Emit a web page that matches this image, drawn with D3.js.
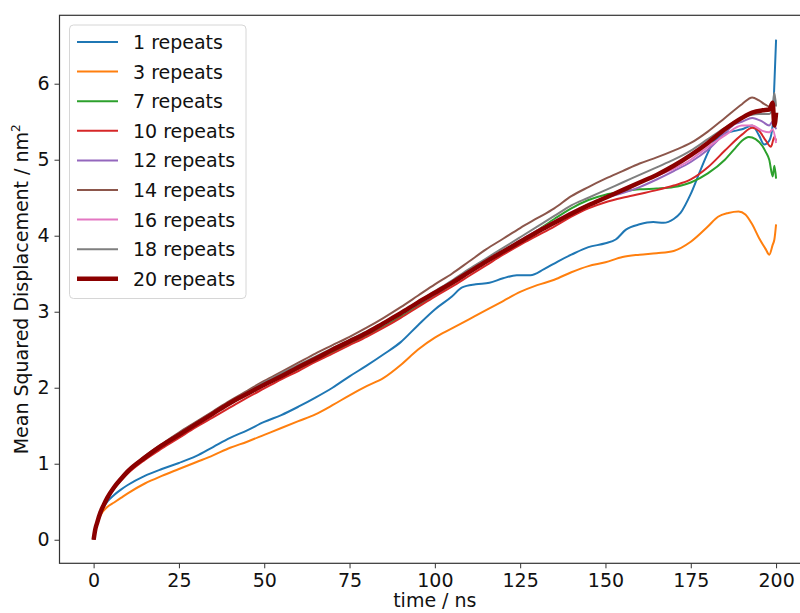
<!DOCTYPE html>
<html><head><meta charset="utf-8">
<script src="https://cdn.jsdelivr.net/npm/d3@7"></script>
<style>body{margin:0;background:#fff;}svg{display:block;font-family:"DejaVu Sans",sans-serif;}</style>
</head><body><svg id="c" width="800" height="613"></svg>
<script>
// ---- data: [time (ns), MSD (nm^2)] ----
const rep1 = [[0,0],[1,0.22],[2,0.35],[4,0.5],[6,0.59],[8,0.66],[10,0.72],[15,0.84],[20,0.93],[25,1.01],[30,1.1],[35,1.22],[40,1.34],[45,1.44],[50,1.55],[55,1.64],[60,1.75],[65,1.87],[70,2.0],[75,2.15],[80,2.29],[85,2.44],[90,2.6],[95,2.82],[100,3.03],[105,3.2],[108,3.32],[112,3.36],[116,3.38],[120,3.44],[124,3.48],[128,3.48],[132,3.56],[136,3.66],[140,3.75],[145,3.85],[150,3.9],[153,3.95],[156,4.08],[160,4.15],[164,4.18],[167,4.17],[170,4.22],[172,4.3],[175,4.55],[178,4.88],[181,5.18],[184,5.33],[187,5.37],[190,5.4],[193,5.45],[195,5.32],[196.5,5.2],[198,5.25],[199,5.45],[199.5,6.0],[200,6.58]];
const rep3 = [[0,0],[1,0.2],[2,0.32],[4,0.43],[6,0.49],[8,0.55],[10,0.61],[15,0.74],[20,0.84],[25,0.93],[30,1.02],[35,1.11],[40,1.21],[45,1.29],[50,1.38],[55,1.47],[60,1.56],[65,1.65],[70,1.77],[75,1.9],[80,2.02],[85,2.13],[90,2.3],[95,2.5],[100,2.66],[105,2.78],[110,2.9],[115,3.02],[120,3.14],[125,3.26],[130,3.35],[135,3.42],[140,3.52],[145,3.6],[150,3.65],[155,3.72],[160,3.75],[165,3.77],[170,3.8],[175,3.92],[180,4.12],[183,4.25],[186,4.3],[189,4.32],[191,4.28],[193,4.15],[195,3.97],[197,3.82],[198,3.75],[199,3.88],[199.5,3.95],[200,4.15]];
const rep7 = [[0,0],[1,0.23],[2,0.37],[4,0.56],[6,0.69],[10,0.9],[15,1.08],[20,1.24],[25,1.38],[30,1.52],[35,1.66],[40,1.79],[45,1.91],[50,2.03],[55,2.14],[60,2.25],[65,2.36],[70,2.47],[75,2.58],[80,2.69],[85,2.81],[90,2.94],[95,3.08],[100,3.22],[105,3.36],[110,3.51],[115,3.65],[120,3.78],[125,3.93],[130,4.07],[135,4.22],[140,4.36],[145,4.47],[150,4.54],[155,4.58],[160,4.61],[165,4.62],[170,4.64],[175,4.7],[180,4.82],[185,5.0],[188,5.15],[190,5.25],[192,5.3],[194,5.27],[196,5.18],[197,5.1],[198,5.0],[199,4.78],[199.5,4.92],[200,4.75]];
const rep10 = [[0,0],[1,0.22],[2,0.36],[4,0.54],[6,0.67],[10,0.87],[15,1.05],[20,1.2],[25,1.34],[30,1.48],[35,1.61],[40,1.74],[45,1.87],[50,1.99],[55,2.11],[60,2.22],[65,2.34],[70,2.45],[75,2.56],[80,2.67],[85,2.79],[90,2.92],[95,3.06],[100,3.2],[105,3.33],[110,3.47],[115,3.61],[120,3.75],[125,3.88],[130,4.0],[135,4.12],[140,4.25],[145,4.36],[150,4.44],[155,4.5],[160,4.55],[165,4.6],[170,4.66],[175,4.74],[180,4.9],[185,5.12],[190,5.33],[193,5.42],[195,5.38],[197,5.25],[198.5,5.17],[199.5,5.3],[200,5.25]];
const rep12 = [[0,0],[1,0.22],[2,0.36],[4,0.55],[6,0.69],[10,0.9],[15,1.08],[20,1.24],[25,1.38],[30,1.52],[35,1.66],[40,1.8],[45,1.92],[50,2.04],[55,2.15],[60,2.27],[65,2.38],[70,2.5],[75,2.6],[80,2.71],[85,2.83],[90,2.96],[95,3.1],[100,3.23],[105,3.37],[110,3.51],[115,3.65],[120,3.79],[125,3.93],[130,4.06],[135,4.18],[140,4.3],[145,4.41],[150,4.5],[155,4.56],[160,4.64],[165,4.74],[170,4.85],[175,4.97],[180,5.13],[185,5.35],[188,5.47],[190,5.5],[193,5.55],[196,5.5],[198,5.45],[199,5.5],[200,5.4]];
const rep14 = [[0,0],[1,0.23],[2,0.37],[4,0.56],[6,0.7],[10,0.91],[15,1.1],[20,1.26],[25,1.41],[30,1.55],[35,1.69],[40,1.83],[45,1.96],[50,2.09],[55,2.21],[60,2.33],[65,2.45],[70,2.56],[75,2.67],[80,2.79],[85,2.92],[90,3.06],[95,3.21],[100,3.36],[105,3.5],[110,3.66],[115,3.82],[120,3.96],[125,4.1],[130,4.23],[135,4.36],[140,4.52],[145,4.64],[150,4.75],[155,4.85],[160,4.95],[165,5.03],[170,5.12],[175,5.22],[180,5.37],[185,5.55],[190,5.73],[193,5.82],[195,5.78],[197,5.72],[198,5.7],[199,5.73],[200,5.72]];
const rep16 = [[0,0],[1,0.22],[2,0.36],[4,0.55],[6,0.69],[10,0.9],[15,1.08],[20,1.24],[25,1.38],[30,1.52],[35,1.66],[40,1.8],[45,1.92],[50,2.05],[55,2.16],[60,2.28],[65,2.39],[70,2.5],[75,2.61],[80,2.72],[85,2.84],[90,2.97],[95,3.11],[100,3.25],[105,3.38],[110,3.52],[115,3.66],[120,3.8],[125,3.94],[130,4.07],[135,4.19],[140,4.31],[145,4.41],[150,4.5],[155,4.6],[160,4.7],[165,4.79],[170,4.88],[175,5.0],[178,5.1],[185,5.32],[190,5.45],[193,5.45],[196,5.38],[198,5.36],[199,5.4],[200,5.22]];
const rep18 = [[0,0],[1,0.23],[2,0.37],[4,0.56],[6,0.7],[10,0.9],[15,1.09],[20,1.25],[25,1.4],[30,1.54],[35,1.68],[40,1.81],[45,1.94],[50,2.07],[55,2.19],[60,2.3],[65,2.41],[70,2.52],[75,2.63],[80,2.74],[85,2.86],[90,2.99],[95,3.13],[100,3.27],[105,3.41],[110,3.56],[115,3.7],[120,3.84],[125,3.98],[130,4.12],[135,4.26],[140,4.4],[145,4.5],[150,4.6],[155,4.7],[160,4.8],[165,4.9],[170,5.0],[175,5.12],[180,5.27],[185,5.42],[190,5.55],[195,5.6],[198,5.6],[199,5.7],[199.5,5.88],[200,5.7]];
const rep20 = [[0,0],[0.5,0.14],[1,0.22],[2,0.36],[3,0.46],[4,0.55],[6,0.69],[8,0.8],[10,0.9],[15,1.08],[20,1.24],[25,1.38],[30,1.52],[35,1.66],[40,1.8],[45,1.92],[50,2.04],[55,2.15],[60,2.27],[65,2.38],[70,2.5],[75,2.61],[80,2.72],[85,2.85],[90,2.98],[95,3.12],[100,3.25],[105,3.38],[110,3.52],[115,3.66],[120,3.79],[125,3.92],[130,4.05],[135,4.17],[140,4.29],[145,4.4],[150,4.5],[155,4.6],[160,4.7],[165,4.8],[170,4.92],[175,5.06],[180,5.22],[185,5.4],[190,5.55],[193,5.62],[196,5.65],[198,5.66],[199,5.75],[199.5,5.45],[200,5.62]];

const seriesNames = ["1 repeats","3 repeats","7 repeats","10 repeats","12 repeats","14 repeats","16 repeats","18 repeats","20 repeats"];
const seriesData = [rep1,rep3,rep7,rep10,rep12,rep14,rep16,rep18,rep20];
const seriesColors = ["#1f77b4","#ff7f0e","#2ca02c","#d62728","#9467bd","#8c564b","#e377c2","#7f7f7f","#8b0000"];
const seriesWidths = [2,2,2,2,2,2,2,2,4.5];
const xTicks = [0,25,50,75,100,125,150,175,200];
const yTicks = [0,1,2,3,4,5,6];

const svg = d3.select("#c");
const L = 59.5, R = 810.2, T = 15.3, B = 563.3;
const FS = "19px";
const x = d3.scaleLinear().domain([-10,210]).range([L,R]);
const y = d3.scaleLinear().domain([-0.31,6.9]).range([B,T]);

svg.append("defs").append("clipPath").attr("id","clip")
  .append("rect").attr("x",L).attr("y",T).attr("width",R-L).attr("height",B-T);

const line = d3.line().x(d=>x(d[0])).y(d=>y(d[1])).curve(d3.curveMonotoneX);
const g = svg.append("g").attr("clip-path","url(#clip)");
seriesData.forEach((s,i)=>{
  g.append("path").attr("d",line(s)).attr("fill","none")
   .attr("stroke",seriesColors[i]).attr("stroke-width",seriesWidths[i])
   .attr("stroke-linejoin","round").attr("stroke-linecap","butt");
});

// axes
const xa = svg.append("g").attr("transform",`translate(0,${B})`)
  .call(d3.axisBottom(x).tickValues(xTicks).tickSize(5).tickPadding(5).tickFormat(d3.format("d")));
const ya = svg.append("g").attr("transform",`translate(${L},0)`)
  .call(d3.axisLeft(y).tickValues(yTicks).tickSize(5).tickPadding(5).tickFormat(d3.format("d")));
[xa,ya].forEach(a=>{
  a.select(".domain").remove();
  a.selectAll("line").attr("stroke","#333").attr("stroke-width",1);
  a.selectAll("text").attr("font-size",FS).attr("fill","#111").attr("font-family","DejaVu Sans");
});
// spines
svg.append("rect").attr("x",L).attr("y",T).attr("width",R-L).attr("height",B-T)
  .attr("fill","none").attr("stroke","#333").attr("stroke-width",1.2);

// axis labels
svg.append("text").attr("x",(L+R)/2).attr("y",607).attr("text-anchor","middle")
  .attr("font-size",FS).attr("fill","#111").text("time / ns");
const yl = svg.append("text").attr("transform",`translate(28,${(T+B)/2}) rotate(-90)`)
  .attr("text-anchor","middle").attr("font-size",FS).attr("fill","#111");
yl.append("tspan").text("Mean Squared Displacement / nm");
yl.append("tspan").attr("dy",-8).attr("font-size","12px").text("2");

// legend
const lg = svg.append("g");
lg.append("rect").attr("x",69.5).attr("y",25).attr("width",176.5).attr("height",273.5)
  .attr("rx",4).attr("fill","white").attr("fill-opacity",0.85).attr("stroke","#d6d6d6");
seriesNames.forEach((n,i)=>{
  const yy = 42 + i*29.6;
  lg.append("line").attr("x1",77).attr("x2",118).attr("y1",yy).attr("y2",yy)
    .attr("stroke",seriesColors[i]).attr("stroke-width",seriesWidths[i]);
  lg.append("text").attr("x",133).attr("y",yy+7).attr("font-size",FS).attr("fill","#111").text(n);
});
</script></body></html>
